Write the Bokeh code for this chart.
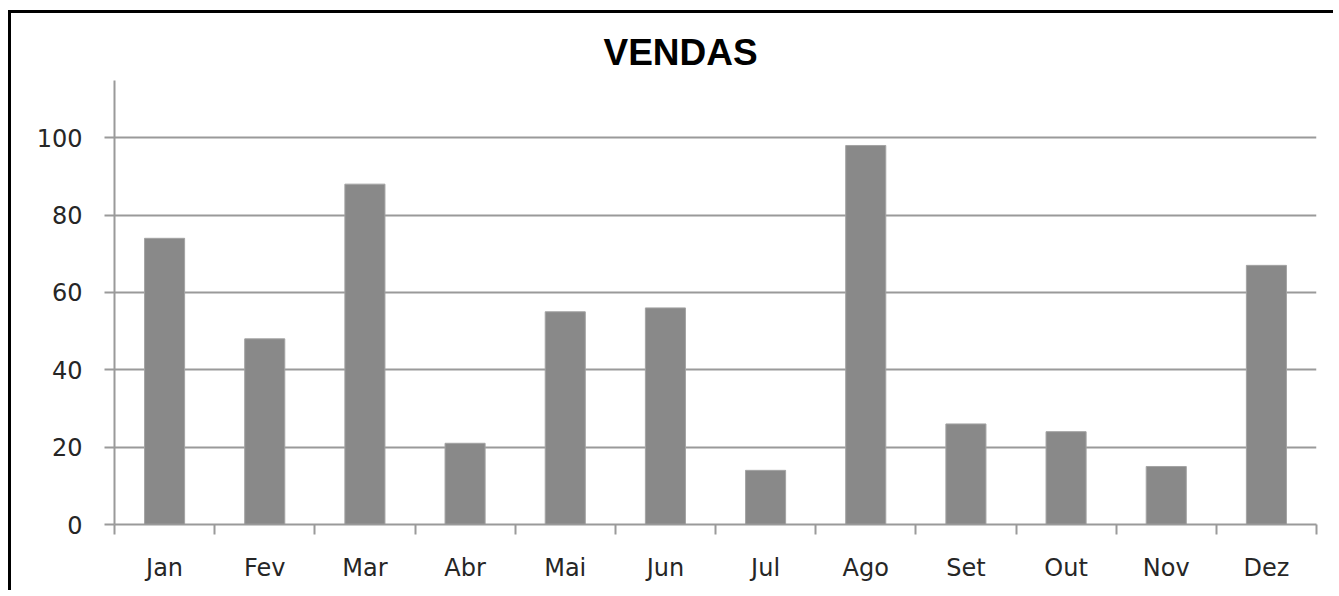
from bokeh.plotting import figure
from bokeh.models import FixedTicker, Range1d, Title, ColumnDataSource
from bokeh.embed import file_html
from bokeh.resources import INLINE

months = ["Jan", "Fev", "Mar", "Abr", "Mai", "Jun", "Jul", "Ago", "Set", "Out", "Nov", "Dez"]
vendas = [74, 48, 88, 21, 55, 56, 14, 98, 26, 24, 15, 67]
y_ticks = [0, 20, 40, 60, 80, 100]

centers = [i + 0.5 for i in range(len(months))]
src = ColumnDataSource(dict(x=centers, top=vendas, month=months))

p = figure(width=1325, height=580, output_backend="svg", toolbar_location=None,
           x_range=Range1d(0, len(months)), y_range=Range1d(0, 114.8),
           min_border_left=103, min_border_right=20, min_border_top=67, min_border_bottom=69)
p.styles = {"border-left": "3px solid black", "border-top": "3px solid black",
            "margin-left": "8px", "margin-top": "10px"}
p.outline_line_color = None
p.background_fill_color = "white"
p.border_fill_color = "white"

p.vbar(x="x", top="top", bottom=0, width=0.4, source=src,
       fill_color="#898989", line_color="#a3a3a3", line_width=1)

t = Title(text="VENDAS", align="left", offset=489, standoff=15, text_font="Liberation Sans",
          text_font_size="37px", text_font_style="bold", text_color="black")
p.add_layout(t, "above")

gray = "#9a9a9a"
# x axis
xa = p.xaxis[0]
xa.ticker = FixedTicker(ticks=centers, minor_ticks=list(range(len(months) + 1)))
xa.major_label_overrides = {c: m for c, m in zip(centers, months)}
xa.major_tick_out = 0
xa.major_tick_in = 0
xa.minor_tick_out = 10
xa.minor_tick_in = 0
xa.minor_tick_line_color = gray
xa.minor_tick_line_width = 2
xa.axis_line_color = gray
xa.axis_line_width = 2
xa.major_label_text_font = "DejaVu Sans"
xa.major_label_text_font_size = "24px"
xa.major_label_text_color = "#262626"
xa.major_label_standoff = 19

# y axis
ya = p.yaxis[0]
ya.ticker = FixedTicker(ticks=y_ticks)
ya.major_tick_out = 10
ya.major_tick_in = 0
ya.minor_tick_out = 0
ya.minor_tick_in = 0
ya.major_tick_line_color = gray
ya.major_tick_line_width = 2
ya.axis_line_color = gray
ya.axis_line_width = 2
ya.major_label_text_font = "DejaVu Sans"
ya.major_label_text_font_size = "24px"
ya.major_label_text_color = "#262626"
ya.major_label_standoff = 22

p.xgrid.grid_line_color = None
p.ygrid.ticker = FixedTicker(ticks=y_ticks[1:])
p.ygrid.grid_line_color = gray
p.ygrid.grid_line_width = 2

open("out.html", "w").write(file_html(p, INLINE))
